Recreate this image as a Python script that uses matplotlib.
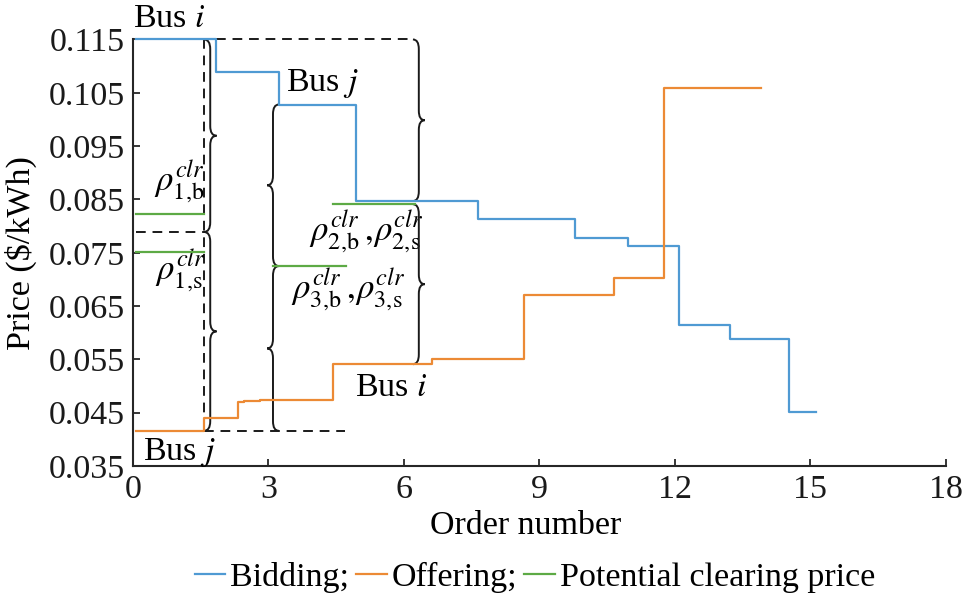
import numpy as np
import matplotlib
matplotlib.use('Agg')
import matplotlib.pyplot as plt
from matplotlib.path import Path
from matplotlib.patches import PathPatch

plt.rcParams['font.family'] = ['Liberation Serif', 'DejaVu Serif']
plt.rcParams['mathtext.fontset'] = 'stix'

# bidding steps (edges + price of each step)
bid_edges = [0.07, 1.84, 3.23, 4.93, 7.64, 9.79, 10.96, 12.09, 13.22, 14.52, 15.13]
bid_price = [0.1150, 0.1089, 0.1028, 0.0847, 0.0814, 0.0778, 0.0762, 0.0615, 0.0588, 0.0451]

# offering steps
off_edges = [0.07, 1.57, 2.33, 2.46, 2.81, 4.43, 6.62, 8.66, 10.65, 11.76, 13.92]
off_price = [0.0416, 0.0440, 0.0470, 0.0472, 0.0474, 0.0541, 0.0550, 0.0670, 0.0703, 0.1059]

# potential clearing prices
clr_price = [0.0823, 0.0752, 0.0841, 0.0725]
clr_x0 = [0.07, 0.07, 4.43, 3.09]
clr_x1 = [1.57, 1.57, 6.24, 4.71]
clr_text = [r'$\rho_{1,\!\mathrm{b}}^{clr}$', r'$\rho_{1,\!\mathrm{s}}^{clr}$',
            r'$\rho_{2,\!\mathrm{b}}^{clr}\,,\!\rho_{2,\!\mathrm{s}}^{clr}$',
            r'$\rho_{3,\!\mathrm{b}}^{clr}\,,\!\rho_{3,\!\mathrm{s}}^{clr}$']
clr_tx = [0.47, 0.48, 3.90, 3.50]
clr_ty = [0.0868, 0.0701, 0.0773, 0.0665]

# bus labels
bus_text = [r'Bus $i$', r'Bus $j$', r'Bus $i$', r'Bus $j$']
bus_x = [0.0, 3.38, 4.92, 0.23]
bus_y = [0.1173, 0.1053, 0.0482, 0.0361]

# curly braces: hook x, lower y, upper y, width (sign = direction)
brace_x = [1.57, 1.57, 3.23, 3.23, 6.20, 6.20]
brace_lo = [0.0789, 0.0416, 0.0725, 0.0416, 0.0847, 0.0541]
brace_hi = [0.1150, 0.0789, 0.1028, 0.0725, 0.1150, 0.0841]
brace_w = [0.28, 0.28, -0.26, -0.26, 0.26, 0.26]

# dashed guides (x0, x1, y0, y1)
dash_x0 = [1.84, 1.57, 0.07, 1.57]
dash_x1 = [6.20, 1.57, 1.57, 4.69]
dash_y0 = [0.1150, 0.1150, 0.0789, 0.0416]
dash_y1 = [0.1150, 0.0416, 0.0789, 0.0416]

yticks = [0.035, 0.045, 0.055, 0.065, 0.075, 0.085, 0.095, 0.105, 0.115]
xticks = [0, 3, 6, 9, 12, 15, 18]

c_bid = '#4F9AD3'
c_off = '#EC8A35'
c_clr = '#5DAA45'
axc = '#262626'
fs = 24.5


def brace(ax, x, ylo, yhi, w, h=0.0018):
    ym = (ylo + yhi) / 2
    xs = x + w / 2
    verts = [(x, yhi), (xs, yhi), (xs, yhi - h),
             (xs, ym + h),
             (xs, ym), (x + w, ym),
             (xs, ym), (xs, ym - h),
             (xs, ylo + h),
             (xs, ylo), (x, ylo)]
    codes = [Path.MOVETO, Path.CURVE3, Path.CURVE3,
             Path.LINETO,
             Path.CURVE3, Path.CURVE3,
             Path.CURVE3, Path.CURVE3,
             Path.LINETO,
             Path.CURVE3, Path.CURVE3]
    ax.add_patch(PathPatch(Path(verts, codes), fill=False, lw=1.4,
                           edgecolor='#1a1a1a', clip_on=False, zorder=4))


fig = plt.figure(figsize=(9.64, 6), dpi=100)
ax = fig.add_axes([0.138, 0.2233, 0.843, 0.7109])

for i in range(len(dash_x0)):
    ax.plot([dash_x0[i], dash_x1[i]], [dash_y0[i], dash_y1[i]], color='#1a1a1a',
            lw=1.4, dashes=(5, 3.5), clip_on=False, zorder=3)

l1, = ax.step(bid_edges, bid_price + [bid_price[-1]], where='post', color=c_bid,
              lw=1.6, clip_on=False, zorder=5)
l2, = ax.step(off_edges, off_price + [off_price[-1]], where='post', color=c_off,
              lw=1.6, clip_on=False, zorder=5)
for i in range(len(clr_price)):
    l3, = ax.plot([clr_x0[i], clr_x1[i]], [clr_price[i], clr_price[i]],
                  color=c_clr, lw=1.6, zorder=5)
    ax.text(clr_tx[i], clr_ty[i], clr_text[i], fontsize=25, va='baseline', ha='left')

for i in range(len(brace_x)):
    brace(ax, brace_x[i], brace_lo[i], brace_hi[i], brace_w[i])

for i in range(len(bus_text)):
    ax.text(bus_x[i], bus_y[i], bus_text[i], fontsize=fs, va='baseline', ha='left',
            clip_on=False)

ax.set_xlim(0, 18)
ax.set_ylim(0.035, 0.115)
ax.set_xticks(xticks)
ax.set_yticks(yticks)
ax.set_yticklabels(['%.3f' % v for v in yticks])
ax.spines['top'].set_visible(False)
ax.spines['right'].set_visible(False)
for s in ['left', 'bottom']:
    ax.spines[s].set_linewidth(1.5)
    ax.spines[s].set_color(axc)
ax.tick_params(direction='in', length=5, width=1.3, colors=axc, labelsize=fs,
               labelcolor='#1a1a1a', pad=6)

ax.set_xlabel('Order number', fontsize=fs)
ax.xaxis.set_label_coords(0.483, -0.105)
ax.set_ylabel('Price ($/kWh)', fontsize=fs)
ax.yaxis.set_label_coords(-0.118, 0.5)

fig.legend([l1, l2, l3], ['Bidding;', 'Offering;', 'Potential clearing price'],
           loc='center', bbox_to_anchor=(0.555, 0.037), ncol=3, frameon=False,
           fontsize=fs, handlelength=0.9, handletextpad=0.15, columnspacing=0.2,
           borderaxespad=0)

fig.savefig('out.png', dpi=100)
